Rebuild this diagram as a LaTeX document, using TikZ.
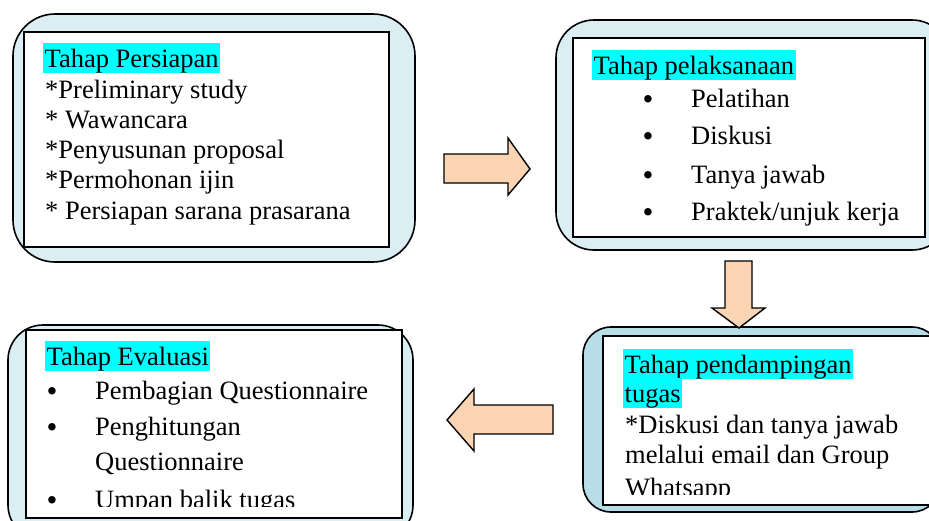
\documentclass[tikz,border=0pt]{standalone}
\usepackage{fontspec}
\setmainfont{Liberation Serif}
\definecolor{outerblue}{HTML}{DAEEF3}
\definecolor{outerblueb}{HTML}{B7DDE8}
\definecolor{arrowpeach}{HTML}{FBD4B4}
\definecolor{hlcyan}{HTML}{00FFFF}
\begin{document}
\begin{tikzpicture}[x=1pt,y=-1pt,
  outerbox/.style={draw=black, line width=1.6pt, fill=outerblue},
  innerbox/.style={draw=black, line width=1.6pt, fill=white},
  txt/.style={anchor=base west, inner sep=0pt, font=\fontsize{26.5}{30}\selectfont},
  hl/.style={txt, fill=hlcyan, inner xsep=1.5pt, text height=24pt, text depth=6pt},
  bul/.style={anchor=base, inner sep=0pt, text height=7pt, text depth=0pt, font=\fontsize{31}{31}\selectfont},
  blockarrow/.style={draw=black, line width=1.4pt, fill=arrowpeach, line join=miter}
]
\clip (0,0) rectangle (929,520);
\fill[white] (0,0) rectangle (929,520);

% ---------- Box 1: Tahap Persiapan ----------
\draw[outerbox, rounded corners=42pt] (13,14) rectangle (415,262);
\draw[innerbox] (24,32) rectangle (389,247);
\node[hl]  (p1h) at (43,67)  {Tahap Persiapan};
\node[txt] (p1a) at (45,98)  {*Preliminary study};
\node[txt] (p1b) at (45,128) {* Wawancara};
\node[txt] (p1c) at (45,158) {*Penyusunan proposal};
\node[txt] (p1d) at (45,188) {*Permohonan ijin};
\node[txt] (p1e) at (45,219) {* Persiapan sarana prasarana};

% ---------- Box 2: Tahap pelaksanaan ----------
\draw[outerbox, rounded corners=38pt] (556,20) rectangle (950,250);
\draw[innerbox] (573,38) rectangle (925,237);
\node[hl]  (p2h) at (592,74)  {Tahap pelaksanaan};
\node[bul] (p2ab) at (648,109.5) {•};
\node[txt] (p2a) at (691,107) {Pelatihan};
\node[bul] (p2bb) at (648,146.5) {•};
\node[txt] (p2b) at (691,144) {Diskusi};
\node[bul] (p2cb) at (648,185.5) {•};
\node[txt] (p2c) at (691,183) {Tanya jawab};
\node[bul] (p2db) at (648,222.5) {•};
\node[txt] (p2d) at (691,220) {Praktek/unjuk kerja};

% ---------- Box 3: Tahap Evaluasi ----------
\draw[outerbox, rounded corners=35pt] (8,325) rectangle (413,540);
\draw[innerbox] (26,330) rectangle (402,518);
\begin{scope}
\clip (27,331) rectangle (401,506.5);
\node[hl]  (p3h) at (45,365) {Tahap Evaluasi};
\node[bul] (p3ab) at (52,401.5) {•};
\node[txt] (p3a) at (95,399) {Pembagian Questionnaire};
\node[bul] (p3bb) at (52,437.5) {•};
\node[txt] (p3b) at (95,435) {Penghitungan};
\node[txt] (p3c) at (95,470) {Questionnaire};
\node[bul] (p3db) at (52,510.5) {•};
\node[txt] (p3d) at (95,508) {Umpan balik tugas};
\end{scope}

% ---------- Box 4: Tahap pendampingan tugas ----------
\draw[outerbox, fill=outerblueb, rounded corners=28pt] (583,327) rectangle (940,512);
\draw[innerbox] (603,336) rectangle (940,505);
\begin{scope}
\clip (604,337) rectangle (929,494.5);
\node[hl]  (p4h) at (623,373) {Tahap pendampingan};
\node[hl]  (p4i) at (623,402) {tugas};
\node[txt] (p4a) at (625,433) {*Diskusi dan tanya jawab};
\node[txt] (p4b) at (625,463) {melalui email dan Group};
\node[txt] (p4c) at (625,496) {Whatsapp};
\end{scope}

% ---------- Block arrows ----------
\draw[blockarrow] (444,154) -- (508,154) -- (508,138) -- (530,169) -- (508,195) -- (508,183) -- (444,183) -- cycle;
\draw[blockarrow] (725,261) -- (752,261) -- (752,308) -- (765,308) -- (739,328) -- (712,308) -- (725,308) -- cycle;
\draw[blockarrow] (553,405) -- (474,405) -- (474,389) -- (447,420) -- (474,451) -- (474,434) -- (553,434) -- cycle;
\end{tikzpicture}
\end{document}
